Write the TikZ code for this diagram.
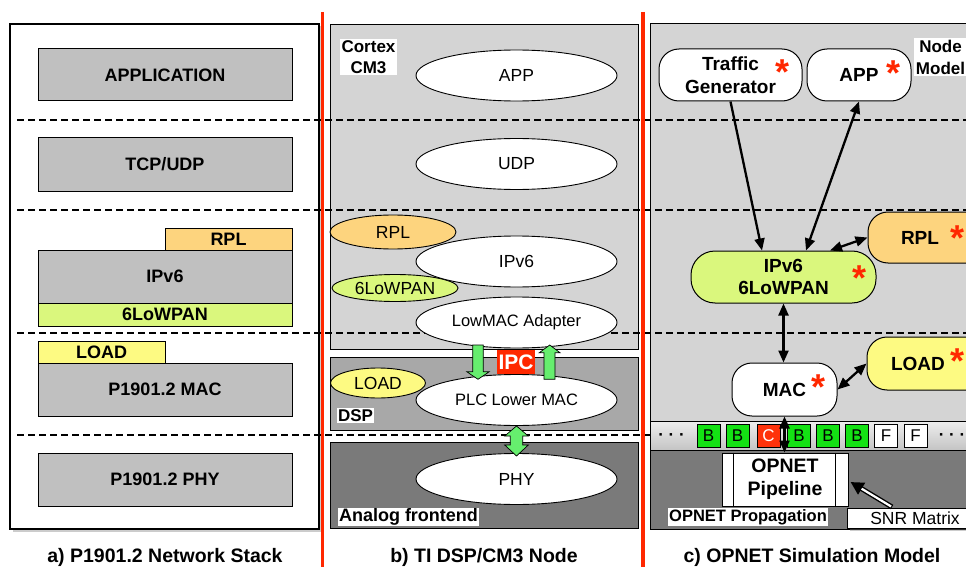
\documentclass[tikz,border=0pt]{standalone}
\usepackage{fontspec}
\setmainfont{Liberation Sans}
\usetikzlibrary{shapes.geometric,arrows.meta,shadows,calc}
\definecolor{stkgray}{RGB}{192,192,192}
\definecolor{lgray}{RGB}{212,212,212}
\definecolor{dspgray}{RGB}{168,168,168}
\definecolor{darkgray2}{RGB}{122,122,122}
\definecolor{orangec}{RGB}{253,212,126}
\definecolor{greenc}{RGB}{218,247,125}
\definecolor{yellowc}{RGB}{253,250,130}
\definecolor{bgreen}{RGB}{20,225,20}
\definecolor{cred}{RGB}{255,50,10}
\definecolor{ipcred}{RGB}{255,40,0}
\definecolor{redline}{RGB}{255,40,0}
\definecolor{garrowcol}{RGB}{102,238,110}
\definecolor{astred}{RGB}{255,40,0}
\definecolor{striptop}{RGB}{238,238,238}
\definecolor{stripbot}{RGB}{196,196,196}
\newcommand{\myfs}[2]{\fontsize{#1}{#2}\selectfont}
\newcommand{\astglyph}{\raisebox{-0.57em}[0.17em][0.17em]{\makebox[0.32em]{*}}}
\tikzset{mytip/.tip={Triangle[length=12pt,width=10pt]}}
\begin{document}
\begin{tikzpicture}[x=1pt,y=-1pt,
  stk/.style={draw=black, line width=1pt, fill=stkgray, inner sep=0pt, minimum width=254pt, minimum height=53pt, font=\bfseries\myfs{18}{20}},
  ell/.style={ellipse, draw=black, line width=0.9pt, fill=white, inner sep=0pt, minimum width=201pt, minimum height=51pt, font=\myfs{17.5}{19}},
  sell/.style={ellipse, draw=black, line width=0.9pt, inner sep=0pt, font=\myfs{17.5}{19}},
  pbox/.style={draw=black, line width=0.9pt, inner sep=0pt},
  lbl/.style={fill=white, inner sep=1.5pt, font=\bfseries\myfs{17}{21}, align=center},
  rnd/.style={draw=black, line width=1pt, rounded corners=20pt, inner sep=0pt, font=\bfseries\myfs{19}{23}, align=center},
  ast/.style={text=astred, font=\bfseries\myfs{36}{36}, inner sep=0pt, anchor=center},
  captxt/.style={font=\bfseries\myfs{19.5}{21}, anchor=base, inner sep=0pt},
  sep/.style={draw=black, line width=2.5pt, dash pattern=on 7pt off 4pt},
  conn/.style={draw=black, line width=2.3pt},
  cell/.style={draw=black, line width=0.8pt, minimum width=23pt, minimum height=23pt, inner sep=0pt, font=\myfs{17}{17}},
  garrow/.style={draw=black, line width=0.7pt, fill=garrowcol},
  rline/.style={draw=redline, line width=3.2pt}
]
\useasboundingbox (0,0) rectangle (966,567);

% ---------- panel a ----------
\node[draw=black, line width=1.3pt, fill=white, inner sep=0pt, minimum width=309pt, minimum height=505pt,
      drop shadow={shadow xshift=2.5pt, shadow yshift=-2.5pt, opacity=0.4}] (pa) at (164.5,276.5) {};
\node[stk, minimum height=52pt] (app_a) at (165,75) {APPLICATION};
\node[stk] (tcp_a) at (165,164.5) {TCP/UDP};
\node[stk, fill=orangec, minimum width=127pt, minimum height=22pt] (rpl_a) at (228.5,239) {RPL};
\node[stk] (ipv6_a) at (165,276.5) {IPv6};
\node[stk, fill=greenc, minimum height=23pt] (low_a) at (165,314.5) {6LoWPAN};
\node[stk, fill=yellowc, minimum width=127pt, minimum height=22pt] (load_a) at (101.5,352) {LOAD};
\node[stk] (mac_a) at (165,389.5) {P1901.2 MAC};
\node[stk] (phy_a) at (165,479.5) {P1901.2 PHY};

% ---------- panel b boxes ----------
\node[pbox, fill=lgray, minimum width=308pt, minimum height=325pt] (cm3) at (484,186.5) {};
\node[pbox, fill=dspgray, minimum width=308pt, minimum height=73pt] (dsp) at (484,393.5) {};
\node[pbox, fill=darkgray2, minimum width=308pt, minimum height=86pt] (afe) at (484,485) {};

% ---------- panel c boxes ----------
\node[draw=black, line width=1pt, fill=lgray, inner sep=0pt, minimum width=330pt, minimum height=505pt] (pc) at (815,276.5) {};

% ---------- dashed separators ----------
\foreach \yy in {120,210,333,435} \draw[sep] (17,\yy) -- (966,\yy);

% ---------- panel b content ----------
\node[lbl] (cortex) at (368.5,57) {Cortex\\CM3};
\node[sell, fill=orangec, minimum width=126pt, minimum height=34pt] (rpl_b) at (393,232) {RPL};
\node[sell, fill=greenc, minimum width=126pt, minimum height=27pt] (low_b) at (395,288) {6LoWPAN};
\node[sell, fill=yellowc, minimum width=95pt, minimum height=30pt] (load_b) at (378,383) {LOAD};
\node[ell] (app_b) at (516.5,75.5) {APP};
\node[ell] (udp_b) at (516.5,164) {UDP};
\node[ell] (ipv6_b) at (516.5,261.5) {IPv6};
\node[ell, font=\myfs{16.5}{18}] (lowmac_b) at (516.5,322.5) {LowMAC Adapter};
\node[ell, font=\myfs{16.5}{18}] (plc_b) at (516.5,400) {PLC Lower MAC};
\node[ell] (phy_b) at (516.5,479) {PHY};
\node[lbl, inner sep=1pt] (dsplbl) at (355.5,415.5) {DSP};
\node[lbl, inner sep=1pt, font=\bfseries\myfs{18}{20}] (afelbl) at (408.5,517) {Analog frontend};
\node[fill=ipcred, text=white, font=\bfseries\myfs{21}{21}, inner sep=0pt, minimum width=38pt, minimum height=24pt] (ipc) at (516,362) {IPC};
\draw[garrow] (472.7,345) -- (483.3,345) -- (483.3,371.7) -- (489.3,371.7) -- (478,379.3) -- (466.7,371.7) -- (472.7,371.7) -- cycle;
\draw[garrow] (549.7,345) -- (560,352.7) -- (555,352.7) -- (555,379.3) -- (544,379.3) -- (544,352.7) -- (539.3,352.7) -- cycle;
\draw[garrow] (516.5,426) -- (528.3,436) -- (522.7,436) -- (522.7,445) -- (528.3,445) -- (516.5,456) -- (504.7,445) -- (510.3,445) -- (510.3,436) -- (504.7,436) -- cycle;

% ---------- panel c content ----------
\node[draw=black, line width=1pt, inner sep=0pt, minimum width=330pt, minimum height=29pt, top color=striptop, bottom color=stripbot] (strip) at (815,435.5) {};
\node[draw=black, line width=1pt, fill=darkgray2, inner sep=0pt, minimum width=330pt, minimum height=79pt] (prop) at (815,489.5) {};
\node[lbl, font=\bfseries\myfs{17}{22}, inner sep=2pt] (nodemodel) at (940.5,57) {Node\\Model};

\node[rnd, fill=white, minimum width=143pt, minimum height=52pt] (tg) at (730.5,75) {Traffic\\Generator};
\node[rnd, fill=white, minimum width=104pt, minimum height=52pt] (appc) at (859,75) {APP};
\node[rnd, fill=greenc, minimum width=185pt, minimum height=52pt, rounded corners=24pt, font=\bfseries\myfs{19}{22.5}] (ipv6c) at (783.5,277) {IPv6\\6LoWPAN};
\node[rnd, fill=orangec, minimum width=140pt, minimum height=51pt] (rplc) at (938,237.5) {RPL\hspace*{36pt}};
\node[rnd, fill=white, minimum width=105pt, minimum height=53pt] (macc) at (784.5,389.5) {MAC};
\node[rnd, fill=yellowc, minimum width=138pt, minimum height=53pt] (loadc) at (936,363.5) {LOAD\hspace*{36pt}};

\node[ast] (a1) at (782,64) {\astglyph};
\node[ast] (a2) at (893,65) {\astglyph};
\node[ast] (a3) at (859,270) {\astglyph};
\node[ast] (a4) at (957,230) {\astglyph};
\node[ast] (a5) at (818,379) {\astglyph};
\node[ast] (a6) at (957,353) {\astglyph};

\node[font=\bfseries\myfs{17}{17}, inner sep=0pt] (dotsl) at (671.5,437) {· · ·};
\node[font=\bfseries\myfs{17}{17}, inner sep=0pt] (dotsr) at (952,437) {· · ·};
\node[cell, fill=bgreen] (c1) at (708.5,435.5) {B};
\node[cell, fill=bgreen] (c2) at (737.5,435.5) {B};
\node[cell, fill=cred, text=white] (c3) at (768.5,435.5) {C};
\node[cell, fill=bgreen] (c4) at (799,435.5) {B};
\node[cell, fill=bgreen] (c5) at (828,435.5) {B};
\node[cell, fill=bgreen] (c6) at (857,435.5) {B};
\node[cell, fill=white] (c7) at (886,435.5) {F};
\node[cell, fill=white] (c8) at (915.5,435.5) {F};

\node[draw=black, line width=1pt, fill=white, inner sep=0pt, minimum width=126pt, minimum height=53pt, font=\bfseries\myfs{19.5}{23}, align=center] (pipe) at (785,479.5) {OPNET\\Pipeline};
\draw[line width=1pt] ($(pipe.north west)+(11.5,0)$) -- ($(pipe.south west)+(11.5,0)$);
\draw[line width=1pt] ($(pipe.north east)+(-13,0)$) -- ($(pipe.south east)+(-13,0)$);
\node[lbl, font=\bfseries\myfs{16.5}{18}, inner sep=1pt] (proplbl) at (748,517) {OPNET Propagation};
\node[draw=black, line width=1pt, fill=white, inner sep=0pt, minimum width=136pt, minimum height=20pt, font=\myfs{17.5}{18},
      drop shadow={shadow xshift=2.5pt, shadow yshift=-2.5pt, opacity=0.4}] (snr) at (915,518) {SNR Matrix};

\coordinate (snrtail) at (892,507);
\coordinate (pipetip) at ($(pipe.east)+(2,2.5)$);
\draw[line width=5pt, -{Triangle[length=13pt,width=13pt]}] (snrtail) -- (pipetip);
\draw[white, line width=2.2pt, shorten >=13pt, shorten <=1pt] (snrtail) -- (pipetip);

% connectors
\draw[conn, -mytip] (tg.south) -- ($(ipv6c.north)+(-21.5,0)$);
\draw[conn, mytip-mytip] (appc.south) -- ($(ipv6c.north)+(22.5,0)$);
\draw[conn, mytip-mytip] ($(ipv6c.north)+(46.5,0)$) -- (rplc.west);
\draw[conn, mytip-mytip] (ipv6c.south) -- (ipv6c.south |- macc.north);
\draw[conn, mytip-mytip] (macc.east) -- (loadc.west);
\draw[conn, mytip-mytip] (macc.south) -- (macc.south |- pipe.north);

% ---------- red dividers ----------
\draw[rline] (322.5,12) -- (322.5,567);
\draw[rline] (643,12) -- (643,567);

% ---------- captions ----------
\node[captxt] (capa) at (165,562) {a) P1901.2 Network Stack};
\node[captxt] (capb) at (484,562) {b) TI DSP/CM3 Node};
\node[captxt] (capc) at (812,562) {c) OPNET Simulation Model};
\end{tikzpicture}
\end{document}
